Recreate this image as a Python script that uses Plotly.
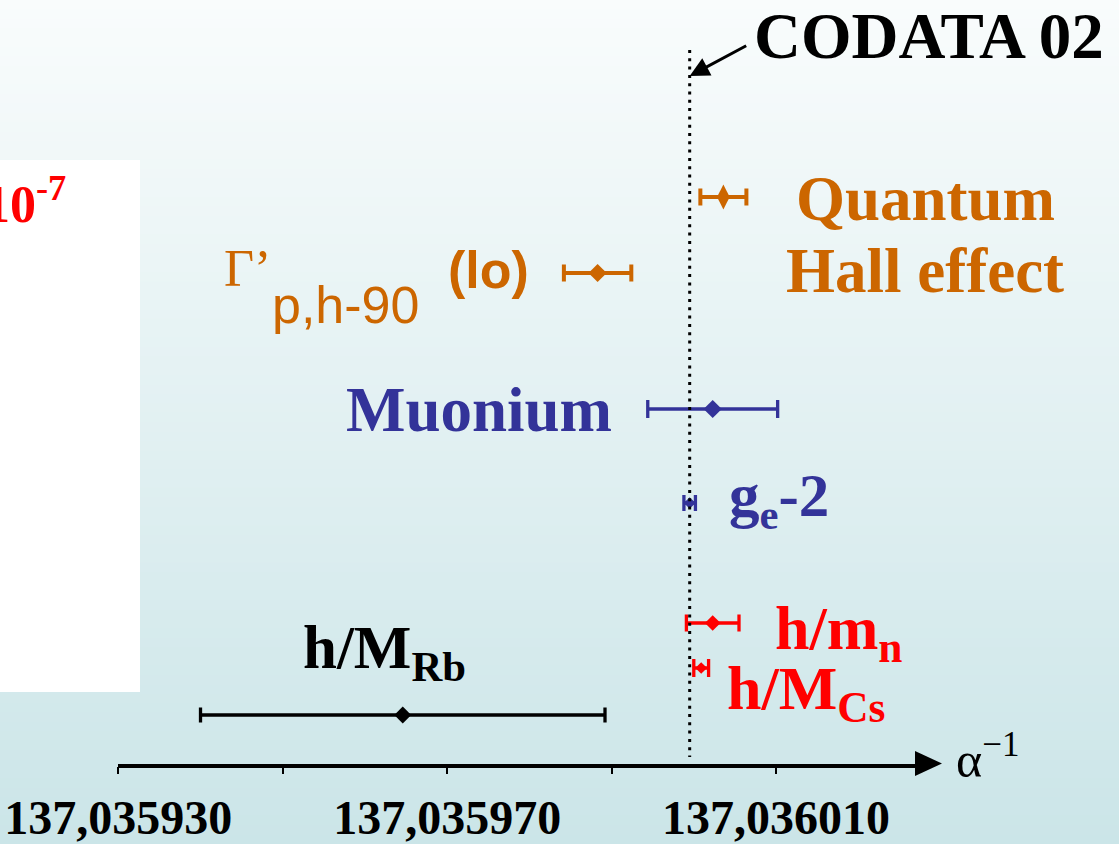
import plotly.graph_objects as go

W, H = 1119, 844

# Determinations of the inverse fine-structure constant
measurements = ["Quantum Hall effect", "Γ'p,h-90 (lo)", "Muonium", "ge-2", "h/mn", "h/MCs", "h/MRb"]
alpha_inv = [137.0360036, 137.0359883, 137.0360023, 137.0359995, 137.0360023, 137.0360009, 137.0359646]
uncert = [0.0000028, 0.0000041, 0.0000079, 0.0000007, 0.0000032, 0.0000009, 0.0000246]
codata_02 = 137.0359995

tick_vals = [137.035930, 137.035950, 137.035970, 137.035990, 137.036010]
tick_text = ["137,035930", "", "137,035970", "", "137,036010"]

# vertical placement of each row (pixels from the top of the plot area)
row_y = [197, 273, 409, 503, 623, 668, 715]

ORANGE = "#cc6600"
BLUE = "#333399"
RED = "#ff0000"
BLACK = "#000000"

groups = [
    # (indices, colour, marker sizes, symbol, bar thickness, cap half-width)
    ([0], ORANGE, [18], "diamond-tall", 4.0, 8.5),
    ([1], ORANGE, [14], "diamond", 4.0, 8.5),
    ([2], BLUE, [14], "diamond", 3.3, 9),
    ([3], BLUE, [9], "diamond", 3.3, 8),
    ([4], RED, [12], "diamond", 3.3, 8.5),
    ([5], RED, [9], "diamond", 3.3, 9),
    ([6], BLACK, [13], "diamond", 3.3, 7.5),
]

fig = go.Figure()
for idx, col, sizes, sym, th, cap in groups:
    fig.add_trace(go.Scatter(
        x=[alpha_inv[i] for i in idx],
        y=[row_y[i] for i in idx],
        mode="markers",
        marker=dict(symbol=sym, size=sizes, color=col, opacity=1, line=dict(width=0)),
        error_x=dict(type="data", array=[uncert[i] for i in idx], symmetric=True,
                     color=col, thickness=th, width=cap),
        cliponaxis=False,
        showlegend=False,
        hoverinfo="x",
    ))

# plot-area geometry in pixels
x_left, x_right = 118.3, 917.0
axis_y = 763.5
px_per_unit = (776.0 - 118.3) / 80e-6
x_max = tick_vals[0] + (x_right - x_left) / px_per_unit

shapes = []
# soft vertical background gradient
top_rgb = (249, 252, 252)
bot_rgb = (203, 229, 232)
n_bands = 90
for k in range(n_bands):
    t = k / (n_bands - 1)
    c = tuple(round(top_rgb[j] + (bot_rgb[j] - top_rgb[j]) * t) for j in range(3))
    shapes.append(dict(type="rect", xref="paper", yref="paper", layer="below",
                       x0=0, x1=1, y0=1 - (k + 1) / n_bands - 0.002, y1=1 - k / n_bands,
                       fillcolor="rgb(%d,%d,%d)" % c, line=dict(width=0)))
# white panel at the left edge
shapes.append(dict(type="rect", xref="paper", yref="paper", layer="below",
                   x0=0, x1=140 / W, y0=1 - 692 / H, y1=1 - 160 / H,
                   fillcolor="white", line=dict(width=0)))
# CODATA 02 reference line
shapes.append(dict(type="line", xref="x", yref="y", x0=codata_02, x1=codata_02, y0=50, y1=757,
                   line=dict(color="black", width=3, dash="3px,5.3px")))
# arrow head at the end of the axis
shapes.append(dict(type="path", xref="paper", yref="paper",
                   path="M %f %f L %f %f L %f %f Z" % (
                       915 / W, 1 - 751 / H, 942 / W, 1 - axis_y / H, 915 / W, 1 - 776 / H),
                   fillcolor="black", line=dict(color="black", width=0)))
# axis line continues under the arrow head
shapes.append(dict(type="line", xref="paper", yref="paper",
                   x0=x_right / W, x1=920 / W, y0=1 - axis_y / H, y1=1 - axis_y / H,
                   line=dict(color="black", width=3.5)))

SERIF = "Liberation Serif"
SANS = "Liberation Sans"


def label(text, xp, yp, size, color, family=SERIF, weight="bold", xanchor="left"):
    return dict(text=text, xref="paper", yref="paper", x=xp / W, y=1 - yp / H,
                xanchor=xanchor, yanchor="middle", showarrow=False,
                font=dict(family=family, size=size, color=color, weight=weight))


annotations = [
    label("CODATA 02", 752, 36, 65, BLACK),
    label("Quantum", 925, 199, 63, ORANGE, xanchor="center"),
    label("Hall effect", 925, 271, 63, ORANGE, xanchor="center"),
    label("Γ’", 222, 268, 52, ORANGE, weight="normal"),
    label("p,h-90", 270, 305, 52, ORANGE, family=SANS, weight="normal"),
    label("(lo)", 446, 270, 52, ORANGE, family=SANS),
    label("Muonium", 344, 410, 63, BLUE),
    label("g<sub>e</sub>-2", 727, 500, 61, BLUE),
    label("h/m<sub>n</sub>", 773, 632, 62, RED),
    label("h/M<sub>Cs</sub>", 725, 692, 62, RED),
    label("h/M<sub>Rb</sub>", 301, 652, 61, BLACK),
    label("10<sup>-7</sup>", 68, 200, 52, RED, xanchor="right"),
    label("α<sup>−1</sup>", 954, 756, 50, BLACK, weight="normal"),
    dict(text="", xref="x", yref="y", x=codata_02, y=76, ax=58, ay=-31,
         showarrow=True, arrowhead=2, arrowsize=1.3, arrowwidth=3, arrowcolor="black"),
]

fig.update_layout(
    width=W, height=H,
    margin=dict(l=0, r=0, t=0, b=0, autoexpand=False),
    paper_bgcolor="rgb(249,252,252)",
    plot_bgcolor="rgba(0,0,0,0)",
    shapes=shapes,
    annotations=annotations,
    xaxis=dict(
        domain=[x_left / W, x_right / W],
        range=[tick_vals[0], x_max],
        automargin=False,
        showgrid=False, zeroline=False,
        showline=True, linecolor="black", linewidth=3.5,
        ticks="outside", ticklen=7, tickwidth=1.5, tickcolor="black",
        tickvals=tick_vals, ticktext=tick_text,
        tickfont=dict(family=SERIF, size=48, color="black", weight="bold"),
        ticklabelstandoff=2,
        fixedrange=True,
    ),
    yaxis=dict(
        domain=[1 - axis_y / H, 1],
        range=[axis_y, 0],
        visible=False,
        automargin=False,
        fixedrange=True,
    ),
)

fig.write_html("out.html")
